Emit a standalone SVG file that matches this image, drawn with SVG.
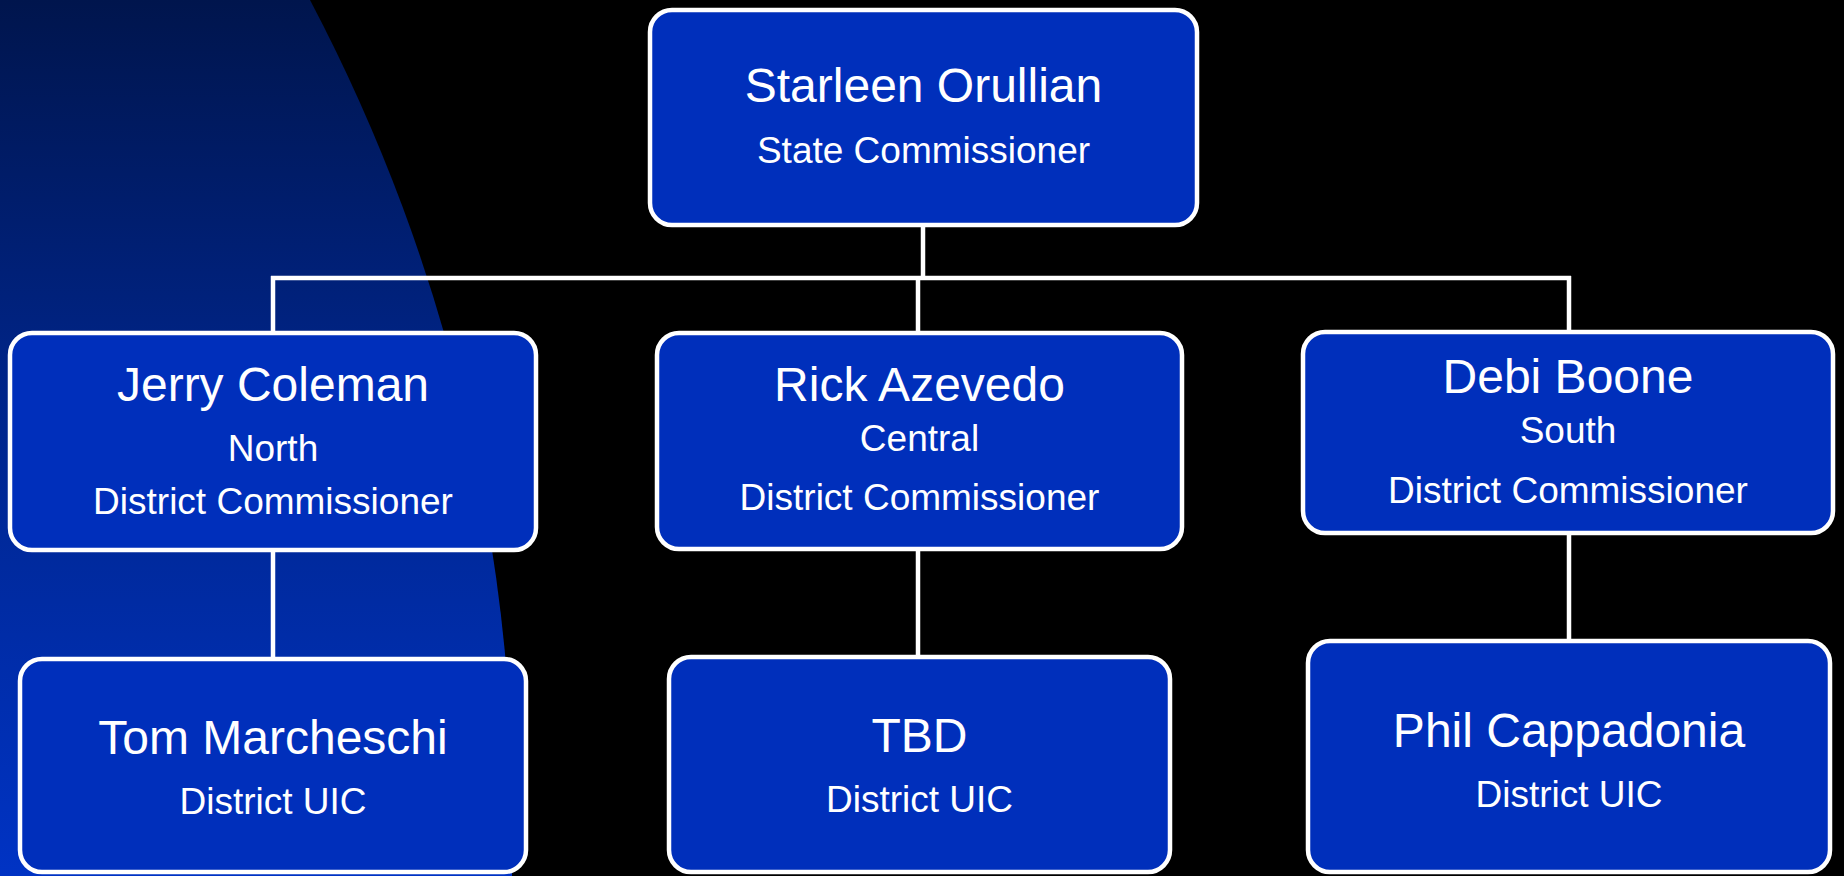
<svg xmlns="http://www.w3.org/2000/svg" width="1844" height="876" viewBox="0 0 1844 876">
  <defs>
    <linearGradient id="bg" x1="0" y1="0" x2="0" y2="1">
      <stop offset="0" stop-color="#00154d"/>
      <stop offset="0.45" stop-color="#00258a"/>
      <stop offset="1" stop-color="#0033c4"/>
    </linearGradient>
    <style>
      .box { fill: #002fbb; stroke: #ffffff; stroke-width: 4.5; }
      .conn { stroke: #ffffff; stroke-width: 4.5; fill: none; }
      .name { font-family: "Liberation Sans", Arial, sans-serif; font-size: 48px; fill: #ffffff; text-anchor: middle; }
      .sub { font-family: "Liberation Sans", Arial, sans-serif; font-size: 37px; fill: #ffffff; text-anchor: middle; }
    </style>
  </defs>
  <rect x="0" y="0" width="1844" height="876" fill="#000000"/>
  <path d="M0,0 L310,0 A1758,1758 0 0 1 512,876 L0,876 Z" fill="url(#bg)"/>

  <g id="connectors">
    <line class="conn" x1="923" y1="225" x2="923" y2="278"/>
    <line class="conn" x1="271" y1="278" x2="1571" y2="278"/>
    <line class="conn" x1="273" y1="276" x2="273" y2="333"/>
    <line class="conn" x1="918" y1="278" x2="918" y2="333"/>
    <line class="conn" x1="1569" y1="276" x2="1569" y2="332"/>
    <line class="conn" x1="273" y1="550" x2="273" y2="659"/>
    <line class="conn" x1="918" y1="549" x2="918" y2="657"/>
    <line class="conn" x1="1569" y1="533" x2="1569" y2="643"/>
  </g>

  <g id="node-starleen">
    <rect class="box" x="650" y="10" width="547" height="215" rx="22"/>
    <text class="name" x="923.5" y="102">Starleen Orullian</text>
    <text class="sub" x="923.5" y="163">State Commissioner</text>
  </g>

  <g id="node-jerry">
    <rect class="box" x="10" y="333" width="526" height="217" rx="22"/>
    <text class="name" x="273" y="401">Jerry Coleman</text>
    <text class="sub" x="273" y="461">North</text>
    <text class="sub" x="273" y="514">District Commissioner</text>
  </g>

  <g id="node-rick">
    <rect class="box" x="657" y="333" width="525" height="216" rx="22"/>
    <text class="name" x="919.5" y="401">Rick Azevedo</text>
    <text class="sub" x="919.5" y="451">Central</text>
    <text class="sub" x="919.5" y="510">District Commissioner</text>
  </g>

  <g id="node-debi">
    <rect class="box" x="1303" y="332" width="530" height="201" rx="22"/>
    <text class="name" x="1568" y="393">Debi Boone</text>
    <text class="sub" x="1568" y="443">South</text>
    <text class="sub" x="1568" y="503">District Commissioner</text>
  </g>

  <g id="node-tom">
    <rect class="box" x="20" y="659" width="506" height="213" rx="22"/>
    <text class="name" x="273" y="754">Tom Marcheschi</text>
    <text class="sub" x="273" y="814">District UIC</text>
  </g>

  <g id="node-tbd">
    <rect class="box" x="669" y="657" width="501" height="215" rx="22"/>
    <text class="name" x="919.5" y="752">TBD</text>
    <text class="sub" x="919.5" y="812">District UIC</text>
  </g>

  <g id="node-phil">
    <rect class="box" x="1308" y="641" width="522" height="231" rx="22"/>
    <text class="name" x="1569" y="747">Phil Cappadonia</text>
    <text class="sub" x="1569" y="807">District UIC</text>
  </g>
</svg>
